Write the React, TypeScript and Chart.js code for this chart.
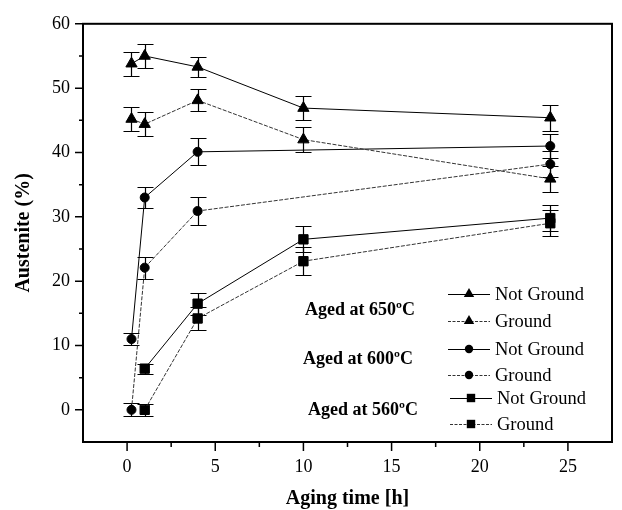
import React, { useEffect, useRef } from "react";
import { Chart, registerables } from "chart.js";

Chart.register(...registerables);

// ---- data ----
const times650 = [0.25, 1, 4, 10, 24];
const times600 = [0.25, 1, 4, 24];
const times560 = [1, 4, 10, 24];

const a650NotGround = [53.8, 55.0, 53.3, 46.9, 45.4];
const a650NotGroundErr = [1.85, 1.8, 1.6, 1.85, 2.0];
const a650Ground = [45.2, 44.4, 48.1, 42.0, 35.9];
const a650GroundErr = [1.85, 1.85, 1.7, 1.9, 2.0];

const a600NotGround = [11.0, 33.0, 40.1, 41.0];
const a600NotGroundErr = [0.9, 1.6, 2.1, 1.8];
const a600Ground = [0, 22.1, 30.9, 38.2];
const a600GroundErr = [1.0, 1.7, 2.2, 2.0];

const a560NotGround = [6.4, 16.5, 26.5, 29.8];
const a560NotGroundErr = [0.8, 1.7, 2.0, 2.0];
const a560Ground = [0, 14.2, 23.1, 29.0];
const a560GroundErr = [0.9, 1.8, 2.2, 2.0];

const xTicks = [0, 5, 10, 15, 20, 25];
const xMinorTicks = [2.5, 7.5, 12.5, 17.5, 22.5];
const yTicks = [0, 10, 20, 30, 40, 50, 60];
const yMinorTicks = [5, 15, 25, 35, 45, 55];

const legendLabels = ["Not Ground", "Ground", "Not Ground", "Ground", "Not Ground", "Ground"];
const groupLabels = ["Aged at 650ºC", "Aged at 600ºC", "Aged at 560ºC"];

const xTitle = "Aging time [h]";
const yTitle = "Austenite (%)";

const FONT = '"Liberation Serif", "Times New Roman", serif';

function makeSet(xs: number[], ys: number[], errs: number[], style: string, dashed: boolean) {
  const radius = style === "triangle" ? 6.5 : style === "rect" ? 6.6 : 4.5;
  return {
    data: xs.map((x, i) => ({ x, y: ys[i] })),
    errors: errs,
    showLine: true,
    borderColor: dashed ? "#333" : "#000",
    borderWidth: 1,
    borderDash: dashed ? [4, 1.5] : [],
    pointStyle: style,
    pointRadius: radius,
    pointBackgroundColor: "#000",
    pointBorderColor: "#000",
    pointBorderWidth: 1,
    fill: false,
    tension: 0,
  } as any;
}

function drawMarker(ctx: CanvasRenderingContext2D, style: string, x: number, y: number, r: number) {
  ctx.beginPath();
  if (style === "triangle") {
    ctx.moveTo(x, y - r);
    ctx.lineTo(x + r * 0.866, y + r * 0.5);
    ctx.lineTo(x - r * 0.866, y + r * 0.5);
    ctx.closePath();
  } else if (style === "circle") {
    ctx.arc(x, y, r, 0, Math.PI * 2);
  } else {
    ctx.rect(x - r, y - r, 2 * r, 2 * r);
  }
  ctx.fillStyle = "#000";
  ctx.fill();
}

const decorPlugin = {
  id: "decor",
  beforeDatasetsDraw(chart: any) {
    const ctx = chart.ctx as CanvasRenderingContext2D;
    const xs = chart.scales.x;
    const ys = chart.scales.y;
    ctx.save();
    ctx.strokeStyle = "#000";
    ctx.lineWidth = 1.2;
    chart.data.datasets.forEach((ds: any) => {
      ds.data.forEach((p: any, i: number) => {
        const e = ds.errors[i];
        const px = Math.round(xs.getPixelForValue(p.x)) + 0.5;
        const y0 = Math.round(ys.getPixelForValue(p.y - e)) + 0.5;
        const y1 = Math.round(ys.getPixelForValue(p.y + e)) + 0.5;
        ctx.beginPath();
        ctx.moveTo(px, y0);
        ctx.lineTo(px, y1);
        ctx.moveTo(px - 8, y0);
        ctx.lineTo(px + 8, y0);
        ctx.moveTo(px - 8, y1);
        ctx.lineTo(px + 8, y1);
        ctx.stroke();
      });
    });
    ctx.restore();
  },
  afterDraw(chart: any) {
    const ctx = chart.ctx as CanvasRenderingContext2D;
    const a = chart.chartArea;
    const xs = chart.scales.x;
    const ys = chart.scales.y;
    ctx.save();
    ctx.strokeStyle = "#000";
    // frame
    ctx.lineWidth = 2;
    ctx.strokeRect(a.left, a.top, a.right - a.left, a.bottom - a.top);
    // ticks
    ctx.lineWidth = 1.5;
    ctx.beginPath();
    xTicks.forEach((v) => {
      const px = xs.getPixelForValue(v);
      ctx.moveTo(px, a.bottom);
      ctx.lineTo(px, a.bottom + 9);
    });
    xMinorTicks.forEach((v) => {
      const px = xs.getPixelForValue(v);
      ctx.moveTo(px, a.bottom);
      ctx.lineTo(px, a.bottom + 5);
    });
    yTicks.forEach((v) => {
      const py = ys.getPixelForValue(v);
      ctx.moveTo(a.left - 8, py);
      ctx.lineTo(a.left, py);
    });
    yMinorTicks.forEach((v) => {
      const py = ys.getPixelForValue(v);
      ctx.moveTo(a.left - 4, py);
      ctx.lineTo(a.left, py);
    });
    ctx.stroke();

    // group labels
    ctx.fillStyle = "#000";
    ctx.font = `bold 18px ${FONT}`;
    ctx.textAlign = "center";
    ctx.textBaseline = "middle";
    const groupPos = [
      [360, 310],
      [358, 359],
      [363, 410],
    ];
    groupLabels.forEach((t, i) => ctx.fillText(t, groupPos[i][0], groupPos[i][1]));

    // legend
    const rows = [294, 321, 349, 375, 398, 424];
    const styles = ["triangle", "triangle", "circle", "circle", "rect", "rect"];
    const sizes: Record<string, number> = { triangle: 6, circle: 4.2, rect: 4.2 };
    ctx.font = `18.5px ${FONT}`;
    ctx.textAlign = "left";
    legendLabels.forEach((t, i) => {
      const y = rows[i];
      const shift = i >= 4 ? 2 : 0;
      const x0 = 448 + shift;
      const x1 = 490 + shift;
      const dashed = i % 2 === 1;
      ctx.save();
      ctx.lineWidth = 1;
      ctx.strokeStyle = dashed ? "#333" : "#000";
      ctx.setLineDash(dashed ? [3, 1.5] : []);
      ctx.beginPath();
      ctx.moveTo(x0, Math.round(y) + 0.5);
      ctx.lineTo(x1, Math.round(y) + 0.5);
      ctx.stroke();
      ctx.restore();
      drawMarker(ctx, styles[i], (x0 + x1) / 2, y, sizes[styles[i]]);
      ctx.fillStyle = "#000";
      ctx.fillText(t, 495 + shift, y + 1);
    });
    ctx.restore();
  },
};

export default function App() {
  const ref = useRef<HTMLCanvasElement | null>(null);
  useEffect(() => {
    if (!ref.current) return;
    const chart = new Chart(ref.current, {
      type: "scatter",
      data: {
        datasets: [
          makeSet(times650, a650NotGround, a650NotGroundErr, "triangle", false),
          makeSet(times650, a650Ground, a650GroundErr, "triangle", true),
          makeSet(times600, a600NotGround, a600NotGroundErr, "circle", false),
          makeSet(times600, a600Ground, a600GroundErr, "circle", true),
          makeSet(times560, a560NotGround, a560NotGroundErr, "rect", false),
          makeSet(times560, a560Ground, a560GroundErr, "rect", true),
        ],
      },
      options: {
        responsive: false,
        animation: false,
        devicePixelRatio: 1,
        layout: { padding: { top: 13, right: 10, left: 0, bottom: 0 } },
        plugins: { legend: { display: false }, tooltip: { enabled: false } },
        scales: {
          x: {
            type: "linear",
            min: -2.5,
            max: 27.5,
            afterBuildTicks: (s: any) => {
              s.ticks = xTicks.map((v) => ({ value: v }));
            },
            afterFit: (s: any) => {
              s.height = 68;
            },
            grid: { display: false, drawTicks: false },
            border: { display: false },
            ticks: { padding: 14, color: "#000", font: { family: FONT, size: 18 } },
            title: {
              display: true,
              text: xTitle,
              color: "#000",
              font: { family: FONT, size: 20, weight: "bold" },
              padding: { top: 0, bottom: -1 },
            },
          },
          y: {
            type: "linear",
            min: -5,
            max: 60,
            afterBuildTicks: (s: any) => {
              s.ticks = yTicks.map((v) => ({ value: v }));
            },
            afterFit: (s: any) => {
              s.width = 83;
            },
            grid: { display: false, drawTicks: false },
            border: { display: false },
            ticks: { padding: 13, color: "#000", font: { family: FONT, size: 18 } },
            title: {
              display: true,
              text: yTitle,
              color: "#000",
              font: { family: FONT, size: 20, weight: "bold" },
              padding: { top: 12, bottom: 0 },
            },
          },
        },
      } as any,
      plugins: [decorPlugin],
    });
    return () => chart.destroy();
  }, []);
  return (
    <div style={{ position: "fixed", left: 0, top: 0, width: 622, height: 510, background: "#fff" }}>
      <canvas ref={ref} width={622} height={510} style={{ display: "block" }} />
    </div>
  );
}
